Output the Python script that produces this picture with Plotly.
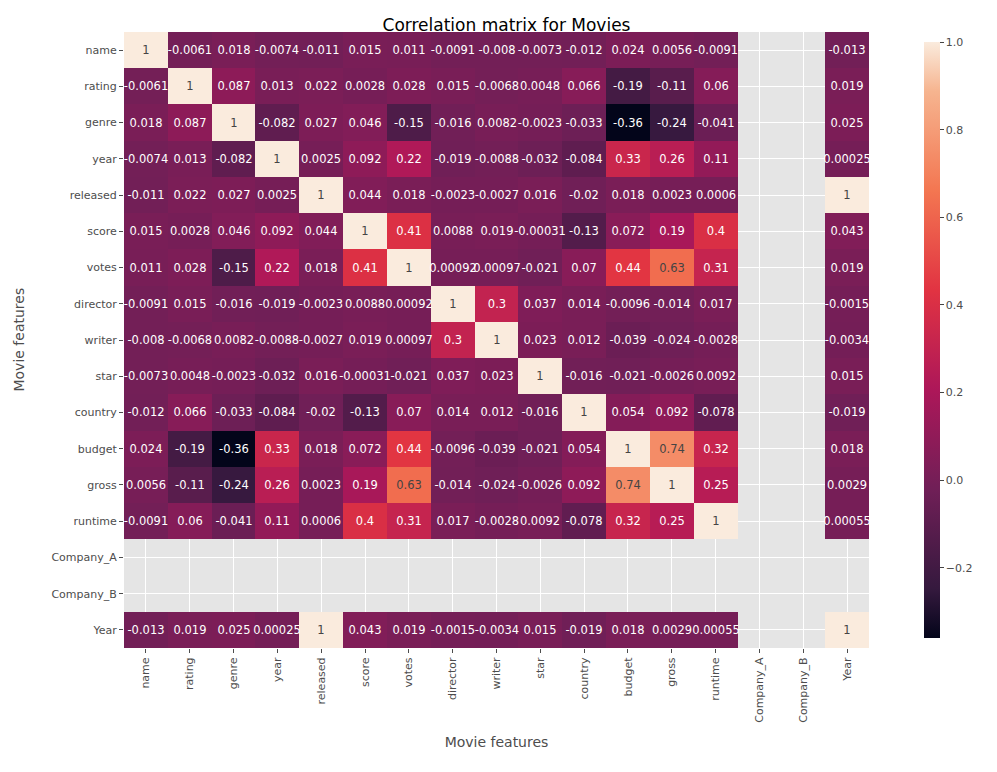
import numpy as np
import plotly.graph_objects as go

features = ["name", "rating", "genre", "year", "released", "score", "votes", "director",
            "writer", "star", "country", "budget", "gross", "runtime", "Company_A", "Company_B", "Year"]

# upper triangle, each row lists correlations with the features after it (None = empty)
upper = {
    "name":     [-0.0061, 0.018, -0.0074, -0.011, 0.015, 0.011, -0.0091, -0.008, -0.0073, -0.012, 0.024, 0.0056, -0.0091, None, None, -0.013],
    "rating":   [0.087, 0.013, 0.022, 0.0028, 0.028, 0.015, -0.0068, 0.0048, 0.066, -0.19, -0.11, 0.06, None, None, 0.019],
    "genre":    [-0.082, 0.027, 0.046, -0.15, -0.016, 0.0082, -0.0023, -0.033, -0.36, -0.24, -0.041, None, None, 0.025],
    "year":     [0.0025, 0.092, 0.22, -0.019, -0.0088, -0.032, -0.084, 0.33, 0.26, 0.11, None, None, 0.00025],
    "released": [0.044, 0.018, -0.0023, -0.0027, 0.016, -0.02, 0.018, 0.0023, 0.0006, None, None, 1],
    "score":    [0.41, 0.0088, 0.019, -0.00031, -0.13, 0.072, 0.19, 0.4, None, None, 0.043],
    "votes":    [0.00092, 0.00097, -0.021, 0.07, 0.44, 0.63, 0.31, None, None, 0.019],
    "director": [0.3, 0.037, 0.014, -0.0096, -0.014, 0.017, None, None, -0.0015],
    "writer":   [0.023, 0.012, -0.039, -0.024, -0.0028, None, None, -0.0034],
    "star":     [-0.016, -0.021, -0.0026, 0.0092, None, None, 0.015],
    "country":  [0.054, 0.092, -0.078, None, None, -0.019],
    "budget":   [0.74, 0.32, None, None, 0.018],
    "gross":    [0.25, None, None, 0.0029],
    "runtime":  [None, None, 0.00055],
    "Company_A": [None, None],
    "Company_B": [None],
    "Year":     [],
}

n = len(features)
z = np.full((n, n), np.nan)
for i, f in enumerate(features):
    if f not in ("Company_A", "Company_B"):
        z[i, i] = 1
    for k, v in enumerate(upper[f]):
        j = i + 1 + k
        if v is not None:
            z[i, j] = v
            z[j, i] = v

text = [["" if np.isnan(v) else f"{v:.2g}" for v in row] for row in z]

rocket = [[0.0, "#03051A"], [0.083, "#35193E"], [0.25, "#701F57"], [0.417, "#AD1759"],
          [0.583, "#E13342"], [0.75, "#F37651"], [0.917, "#F6B48F"], [1.0, "#FAEBDD"]]

fig = go.Figure(go.Heatmap(
    z=z, x=features, y=features, text=text, texttemplate="%{text}",
    textfont=dict(size=11.5), colorscale=rocket, zmin=-0.36, zmax=1, xgap=0, ygap=0,
    hoverongaps=False,
    colorbar=dict(thickness=16, len=1, y=0.5, yanchor="middle", x=1.06, outlinewidth=0,
                  tickvals=[-0.2, 0, 0.2, 0.4, 0.6, 0.8, 1.0],
                  ticktext=["−0.2", "0.0", "0.2", "0.4", "0.6", "0.8", "1.0"],
                  tickfont=dict(size=11, color="#4D4D4D"), ticks="outside", ticklen=4),
))

fig.update_layout(
    width=997, height=772,
    font=dict(family="DejaVu Sans", color="#4D4D4D"),
    title=dict(text="Correlation matrix for Movies", x=0.5, xanchor="center", y=0.978,
               yanchor="middle", font=dict(size=17, color="black")),
    plot_bgcolor="#E5E5E5", paper_bgcolor="white",
    margin=dict(l=116, r=136, t=24, b=132),
    xaxis=dict(title=dict(text="Movie features", font=dict(size=14, color="#4D4D4D")),
               tickangle=-90, showgrid=True, gridcolor="white", gridwidth=1.2,
               ticks="outside", ticklen=4, tickcolor="#4D4D4D", tickfont=dict(size=11)),
    yaxis=dict(autorange="reversed", showgrid=True, gridcolor="white", gridwidth=1.2,
               ticks="outside", ticklen=4, tickcolor="#4D4D4D", tickfont=dict(size=11)),
    annotations=[dict(text="Movie features", xref="paper", yref="paper", x=-0.155, y=0.5,
                      textangle=-90, showarrow=False, font=dict(size=14, color="#4D4D4D"))],
)

fig.write_html("out.html")
